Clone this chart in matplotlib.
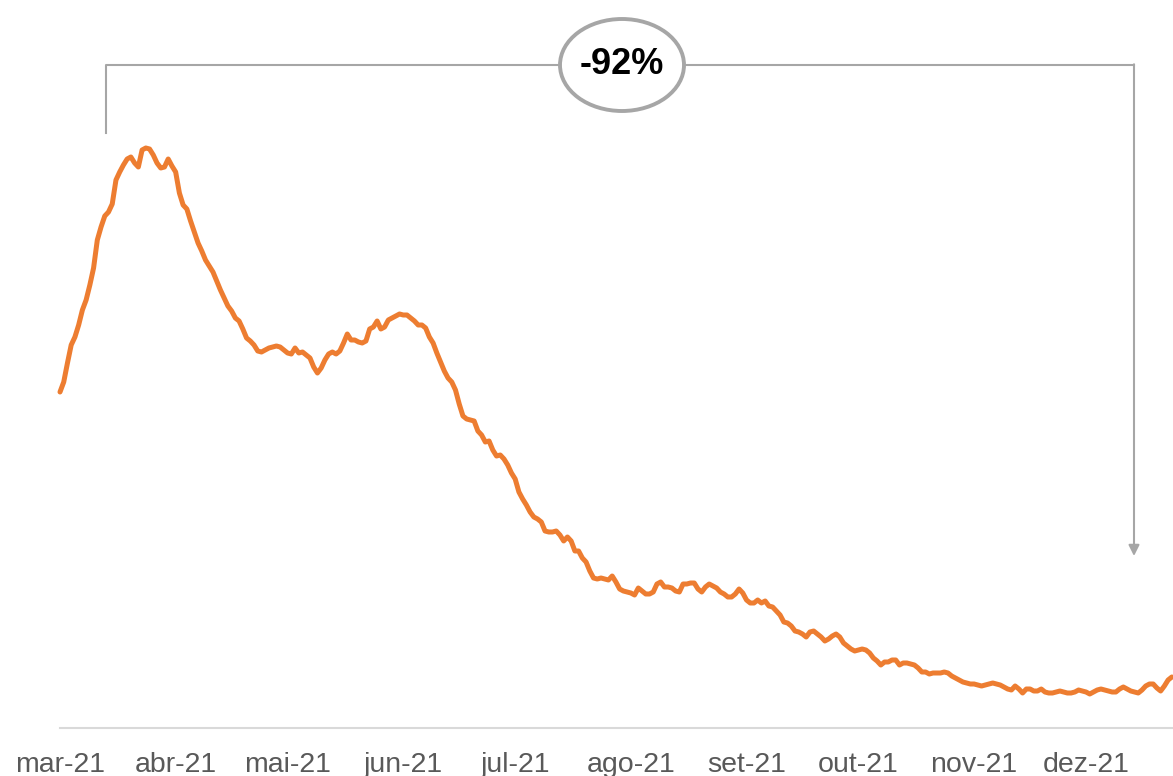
import matplotlib
matplotlib.use("Agg")
import matplotlib.pyplot as plt
import matplotlib.dates as mdates
from matplotlib.patches import Ellipse
import pandas as pd

plt.rcParams['font.family'] = ['Liberation Sans', 'DejaVu Sans']

# ---- data ----
start_date = "2021-03-01"
values = [
    1680, 1730, 1825, 1915, 1955, 2015, 2090, 2140, 2215, 2300,
    2440, 2505, 2560, 2580, 2620, 2740, 2780, 2815, 2845, 2855,
    2825, 2805, 2890, 2900, 2895, 2865, 2825, 2800, 2805, 2845,
    2810, 2780, 2675, 2615, 2595, 2535, 2480, 2425, 2385, 2340,
    2310, 2280, 2235, 2190, 2150, 2110, 2085, 2050, 2035, 1995,
    1950, 1935, 1915, 1885, 1880, 1890, 1900, 1905, 1910, 1905,
    1890, 1875, 1870, 1900, 1875, 1880, 1865, 1850, 1805, 1775,
    1800, 1840, 1870, 1880, 1870, 1885, 1925, 1970, 1940, 1940,
    1930, 1925, 1935, 1995, 2005, 2035, 1995, 2005, 2040, 2050,
    2060, 2070, 2065, 2065, 2050, 2035, 2015, 2015, 2000, 1955,
    1925, 1875, 1830, 1785, 1750, 1730, 1690, 1620, 1560, 1545,
    1540, 1535, 1485, 1465, 1430, 1435, 1390, 1360, 1365, 1345,
    1315, 1275, 1245, 1180, 1145, 1115, 1080, 1055, 1045, 1030,
    985, 980, 980, 985, 965, 935, 955, 935, 885, 885,
    850, 830, 785, 750, 745, 750, 745, 740, 760, 730,
    695, 685, 680, 675, 665, 700, 685, 670, 670, 680,
    720, 730, 705, 705, 700, 685, 680, 720, 720, 725,
    725, 695, 680, 705, 720, 710, 700, 680, 670, 655,
    655, 670, 695, 675, 640, 625, 625, 640, 625, 635,
    610, 605, 585, 565, 530, 525, 510, 485, 480, 470,
    455, 480, 485, 470, 455, 435, 445, 460, 470, 455,
    425, 410, 395, 385, 390, 395, 390, 375, 350, 335,
    315, 330, 330, 340, 340, 315, 325, 325, 320, 315,
    300, 280, 280, 270, 275, 275, 275, 280, 275, 260,
    250, 240, 230, 225, 220, 220, 215, 210, 215, 220,
    225, 220, 215, 205, 195, 190, 210, 195, 175, 195,
    195, 185, 185, 195, 180, 175, 175, 180, 185, 180,
    175, 175, 180, 190, 185, 180, 170, 180, 190, 195,
    190, 185, 180, 180, 195, 205, 195, 185, 180, 175,
    190, 210, 220, 220, 200, 185, 210, 240, 255,
]
month_starts = ["2021-03-01", "2021-04-01", "2021-05-01", "2021-06-01", "2021-07-01",
                "2021-08-01", "2021-09-01", "2021-10-01", "2021-11-01", "2021-12-01"]
month_labels = ["mar-21", "abr-21", "mai-21", "jun-21", "jul-21",
                "ago-21", "set-21", "out-21", "nov-21", "dez-21"]
change_label = "-92%"

dates = pd.date_range(start_date, periods=len(values), freq="D")

# ---- figure ----
W, H = 1173, 776
fig = plt.figure(figsize=(W / 100, H / 100), dpi=100)
ax = fig.add_axes([60 / W, (H - 728) / H, 1113 / W, 728 / H])

ax.plot(dates, values, color="#ED7D31", lw=3.6, solid_joinstyle="round",
        solid_capstyle="round", clip_on=False, zorder=3)

x0 = mdates.date2num(dates[0])
ax.set_xlim(x0, x0 + 1113 / 3.731)
ax.set_ylim(0, 728 * 5)

ax.set_xticks(pd.to_datetime(month_starts))
ax.set_xticklabels(month_labels)
ax.tick_params(axis="x", length=0, pad=17.5, labelsize=20.5, labelcolor="#595959")
ax.set_yticks([])
for s in ["top", "left", "right"]:
    ax.spines[s].set_visible(False)
ax.spines["bottom"].set_color("#D9D9D9")
ax.spines["bottom"].set_linewidth(1.5)

# ---- annotation bracket ----
gray = "#A6A6A6"
xl, xr = (106 - 60) / 1113, (1134 - 60) / 1113
ytop = (728 - 65) / 728
ylow = (728 - 133) / 728
yarrow = (728 - 556) / 728
ax.plot([xl, xl, xr], [ylow, ytop, ytop], color=gray, lw=1.5,
        transform=ax.transAxes, clip_on=False, zorder=4)
ax.annotate("", xy=(xr, yarrow), xytext=(xr, ytop + 0.001),
            xycoords="axes fraction", textcoords="axes fraction",
            arrowprops=dict(arrowstyle="-|>", color=gray, lw=1.5,
                            mutation_scale=16, shrinkA=0, shrinkB=0),
            zorder=4)
cx = (622 - 60) / 1113
ell = Ellipse((cx, ytop), width=124 / 1113, height=92 / 728,
              transform=ax.transAxes, facecolor="white", edgecolor=gray,
              lw=2.8, clip_on=False, zorder=5)
ax.add_patch(ell)
ax.text(cx, ytop, change_label, transform=ax.transAxes, ha="center", va="center",
        fontsize=26, fontweight="bold", color="black", zorder=6)

fig.savefig("out.png", dpi=100)
